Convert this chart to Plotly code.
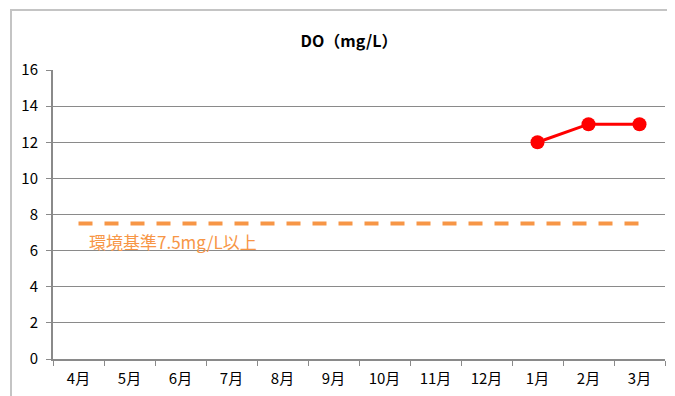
import plotly.graph_objects as go

months = ['4月', '5月', '6月', '7月', '8月', '9月', '10月', '11月', '12月', '1月', '2月', '3月']
do_values = [None, None, None, None, None, None, None, None, None, 12, 13, 13]
standard = [7.5] * 12
standard_label = '環境基準7.5mg/L以上'
y_ticks = [0, 2, 4, 6, 8, 10, 12, 14, 16]

FONT = 'Noto Sans CJK JP'
GRID = '#8a8a8a'
ORANGE = '#F79646'

# page body adds an 8px offset, so the figure is laid out 8px up/left
OFF = 8
L, T, PW, PH = 53 - OFF, 70 - OFF, 612, 289

fig = go.Figure()
fig.add_trace(go.Scatter(
    x=months, y=standard, mode='lines',
    line=dict(color=ORANGE, width=4, dash='14px,12px'),
    showlegend=False, hoverinfo='skip',
))
fig.add_trace(go.Scatter(
    x=months, y=do_values, mode='lines+markers',
    line=dict(color='#FF0000', width=3),
    marker=dict(color='#FF0000', size=14),
    showlegend=False,
))

fig.add_annotation(
    text=standard_label, xref='paper', yref='y',
    x=(87 - 53) / PW, y=6.5, xanchor='left', yanchor='middle',
    showarrow=False, font=dict(family=FONT, size=17, color=ORANGE),
)

# outer chart frame
fig.add_shape(
    type='rect', xref='paper', yref='paper',
    x0=(11 - 53) / PW, x1=(700 - 53) / PW,
    y0=-(440 - 359) / PH, y1=1 + (70 - 10) / PH,
    line=dict(color='#c4c4c4', width=2), layer='below',
)

fig.update_layout(
    width=675, height=396,
    margin=dict(l=L, r=675 - L - PW, t=T, b=396 - T - PH),
    paper_bgcolor='white', plot_bgcolor='white',
    title=dict(
        text='<b>DO（mg/L）</b>', x=(349 - OFF) / 675, xanchor='center',
        y=1 - (41 - OFF) / 396, yanchor='middle',
        font=dict(family=FONT, size=16, color='black'),
    ),
    font=dict(family=FONT, size=14, color='black'),
)
fig.update_xaxes(
    type='category', categoryorder='array', categoryarray=months,
    showgrid=False, showline=True, linecolor=GRID, linewidth=2,
    ticks='outside', tickson='boundaries', ticklen=5, tickcolor=GRID,
    tickfont=dict(family=FONT, size=15, color='black'),
    ticklabelstandoff=5,
    range=[-0.5, 11.5],
)
fig.update_yaxes(
    range=[0, 16], tickvals=y_ticks, showgrid=True, gridcolor=GRID, gridwidth=1,
    showline=True, linecolor=GRID, linewidth=2,
    ticks='outside', ticklen=5, tickcolor=GRID,
    tickfont=dict(family=FONT, size=15, color='black'),
    ticklabelstandoff=5,
    zeroline=False,
)

fig.write_html('out.html')
